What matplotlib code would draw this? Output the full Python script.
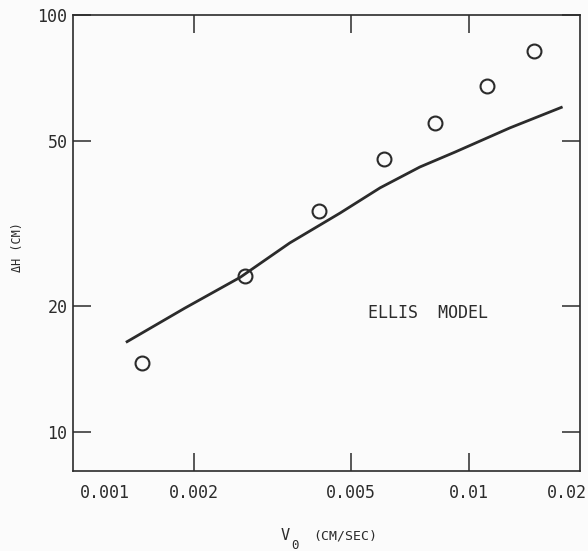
import numpy as np
import matplotlib
matplotlib.use("Agg")
import matplotlib.pyplot as plt
from matplotlib.ticker import NullLocator

# measured points (circles)
v_data = [0.00147, 0.00269, 0.00415, 0.00608, 0.00819, 0.0111, 0.0146]
dh_data = [14.6, 23.7, 33.9, 45.2, 55.1, 67.5, 81.9]

# Ellis model curve
v_model = [0.00134, 0.00189, 0.00262, 0.00350, 0.00470, 0.00594, 0.00750, 0.00921, 0.0127, 0.0173]
dh_model = [16.4, 19.8, 23.5, 28.4, 33.5, 38.5, 43.2, 46.9, 53.6, 60.2]

x_ticks = [0.002, 0.005, 0.01]
x_labels = ["0.001", "0.002", "0.005", "0.01", "0.02"]
x_label_pos = [0.001, 0.002, 0.005, 0.01, 0.02]
y_ticks = [10, 20, 50, 100]
y_labels = ["10", "20", "50", "100"]

ink = "#2b2b2b"
plt.rcParams["font.family"] = ["DejaVu Sans Mono"]

fig = plt.figure(figsize=(5.88, 5.51), dpi=100, facecolor="#fbfbfb")
ax = fig.add_axes([73 / 588, 80 / 551, 507 / 588, 456 / 551])
ax.set_facecolor("#fbfbfb")

ax.plot(v_model, dh_model, color=ink, lw=2.0, solid_capstyle="butt")
ax.plot(v_data, dh_data, "o", ms=10, mfc="none", mec=ink, mew=1.5)

ax.set_xscale("log")
ax.set_yscale("log")
ax.set_xlim(0.000983, 0.01916)
ax.set_ylim(8.06, 100)

for s in ax.spines.values():
    s.set_color(ink)
    s.set_linewidth(1.2)

ax.set_xticks(x_ticks)
ax.set_xticklabels([])
ax.set_yticks(y_ticks)
ax.set_yticklabels(y_labels, fontsize=12, color=ink)
ax.xaxis.set_minor_locator(NullLocator())
ax.yaxis.set_minor_locator(NullLocator())
ax.tick_params(axis="both", which="major", direction="in", length=13, width=1.1,
               color=ink, top=True, right=True)
ax.tick_params(axis="y", pad=4)

aligns = ["left", "center", "center", "center", "right"]
shifts = [3, 0, 0, 0, 0]
for val, lab, ha, dx in zip(x_label_pos, x_labels, aligns, shifts):
    ax.annotate(lab, xy=(val, 0), xycoords=("data", "axes fraction"),
                xytext=(dx, -16), textcoords="offset points", ha=ha, va="center",
                fontsize=12, color=ink, annotation_clip=False)

ax.text(0.00787, 19.3, "ELLIS  MODEL", ha="center", va="center", fontsize=12, color=ink)

fig.text(18 / 588, 1 - 247 / 551, "ΔH (CM)", rotation=90, ha="center", va="center",
         fontsize=8.5, color=ink)
fig.text(285 / 588, 1 - 535 / 551, "V", ha="center", va="center", fontsize=11, color=ink)
fig.text(295 / 588, 1 - 539 / 551, "0", ha="center", va="top", fontsize=9, color=ink)
fig.text(313 / 588, 1 - 536 / 551, "(CM/SEC)", ha="left", va="center", fontsize=9.5, color=ink)

fig.savefig("out.png", dpi=100, facecolor=fig.get_facecolor())
